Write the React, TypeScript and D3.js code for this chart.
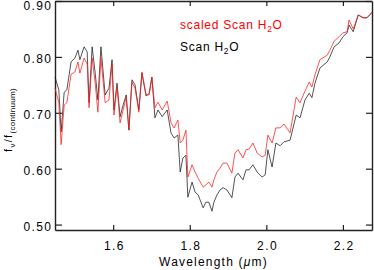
import * as d3 from "d3";
import React, { useEffect, useRef } from "react";

const width = 374;
const height = 270;
const margin = { top: 1, right: 2, bottom: 40, left: 55 };
const font = "'Liberation Sans', Arial, Helvetica, sans-serif";

// wavelength in micron
const wavelength = [
  1.448, 1.458, 1.464, 1.472, 1.479, 1.490, 1.500, 1.508, 1.513, 1.524,
  1.532, 1.537, 1.545, 1.553, 1.560, 1.568, 1.579, 1.589, 1.597, 1.602,
  1.610, 1.618, 1.626, 1.634, 1.641, 1.649, 1.657, 1.667, 1.675, 1.686,
  1.694, 1.701, 1.709, 1.717, 1.728, 1.741, 1.751, 1.759, 1.769, 1.775,
  1.782, 1.790, 1.795, 1.806, 1.814, 1.822, 1.835, 1.842, 1.850, 1.858,
  1.863, 1.871, 1.879, 1.887, 1.897, 1.910, 1.918, 1.926, 1.939, 1.947,
  1.955, 1.965, 1.976, 1.989, 1.997, 2.004, 2.015, 2.025, 2.036, 2.046,
  2.062, 2.078, 2.088, 2.101, 2.112, 2.119, 2.127, 2.140, 2.159, 2.166,
  2.177, 2.190, 2.200, 2.211, 2.216, 2.227, 2.240, 2.253, 2.263, 2.276,
];

const scanH2O = [
  0.764, 0.741, 0.666, 0.737, 0.741, 0.791, 0.798, 0.812, 0.795, 0.818,
  0.809, 0.718, 0.818, 0.771, 0.723, 0.818, 0.732, 0.744, 0.795, 0.705,
  0.753, 0.693, 0.714, 0.732, 0.669, 0.759, 0.750, 0.705, 0.771, 0.730,
  0.735, 0.764, 0.691, 0.705, 0.693, 0.705, 0.664, 0.655, 0.660, 0.594,
  0.619, 0.624, 0.549, 0.576, 0.558, 0.553, 0.530, 0.540, 0.540, 0.524,
  0.540, 0.553, 0.562, 0.566, 0.562, 0.548, 0.585, 0.592, 0.580, 0.598,
  0.598, 0.607, 0.594, 0.585, 0.589, 0.634, 0.603, 0.646, 0.641, 0.648,
  0.651, 0.696, 0.691, 0.723, 0.735, 0.727, 0.753, 0.780, 0.791, 0.800,
  0.818, 0.825, 0.836, 0.843, 0.857, 0.845, 0.875, 0.870, 0.870, 0.880,
];

const scaledScanH2O = [
  0.744, 0.718, 0.643, 0.714, 0.718, 0.769, 0.773, 0.791, 0.771, 0.798,
  0.787, 0.709, 0.798, 0.753, 0.701, 0.798, 0.718, 0.723, 0.787, 0.696,
  0.746, 0.682, 0.705, 0.728, 0.669, 0.755, 0.744, 0.701, 0.773, 0.732,
  0.732, 0.764, 0.709, 0.719, 0.705, 0.721, 0.682, 0.673, 0.687, 0.646,
  0.651, 0.669, 0.585, 0.607, 0.594, 0.583, 0.567, 0.571, 0.576, 0.567,
  0.580, 0.594, 0.601, 0.610, 0.610, 0.592, 0.628, 0.634, 0.619, 0.634,
  0.635, 0.646, 0.628, 0.621, 0.624, 0.660, 0.646, 0.673, 0.673, 0.680,
  0.664, 0.728, 0.718, 0.739, 0.755, 0.746, 0.768, 0.795, 0.803, 0.812,
  0.828, 0.836, 0.843, 0.845, 0.866, 0.850, 0.875, 0.870, 0.870, 0.879,
];

const xTicks = [1.6, 1.8, 2.0, 2.2];
const yTicks = [0.5, 0.6, 0.7, 0.8, 0.9];

export default function App() {
  const ref = useRef<SVGSVGElement>(null);

  useEffect(() => {
    const svg = d3.select(ref.current);
    svg.selectAll("*").remove();

    const x = d3.scaleLinear()
      .domain([1.448, 2.276])
      .range([margin.left, width - margin.right]);
    const y = d3.scaleLinear()
      .domain([0.4903, 0.9])
      .range([height - margin.bottom, margin.top]);

    const styleAxis = (g) => {
      g.attr("font-family", font).attr("font-size", 12);
      g.select(".domain").attr("stroke", "#222").attr("stroke-width", 1.4);
      g.selectAll(".tick line").attr("stroke", "#222").attr("stroke-width", 1.2);
      g.selectAll(".tick text").attr("fill", "#000").attr("letter-spacing", 1.4);
    };

    // left axis with labels
    const gl = svg.append("g")
      .attr("transform", "translate(" + margin.left + ",0)")
      .call(d3.axisLeft(y).tickValues(yTicks).tickFormat(d3.format(".2f"))
        .tickSizeInner(-7).tickSizeOuter(0).tickPadding(2.6));
    styleAxis(gl);
    gl.selectAll(".tick text")
      .attr("dy", null)
      .attr("dominant-baseline", "central")
      .attr("y", (d) => Math.max(1.5, 5.5 - y(d)));

    // right axis
    const gr = svg.append("g")
      .attr("transform", "translate(" + (width - margin.right) + ",0)")
      .call(d3.axisRight(y).tickValues(yTicks).tickFormat(() => "")
        .tickSizeInner(-6).tickSizeOuter(0));
    styleAxis(gr);

    // bottom axis with labels
    const gb = svg.append("g")
      .attr("transform", "translate(0," + (height - margin.bottom) + ")")
      .call(d3.axisBottom(x).tickValues(xTicks).tickFormat(d3.format(".1f"))
        .tickSizeInner(-5).tickSizeOuter(0).tickPadding(11));
    styleAxis(gb);
    gb.selectAll(".tick text").attr("dx", 0.7);

    // top axis
    const gt = svg.append("g")
      .attr("transform", "translate(0," + margin.top + ")")
      .call(d3.axisTop(x).tickValues(xTicks).tickFormat(() => "")
        .tickSizeInner(-5).tickSizeOuter(0));
    styleAxis(gt);

    const idx = d3.range(wavelength.length);
    const line = (vals) => d3.line()
      .x((i) => x(wavelength[i]))
      .y((i) => y(vals[i]))(idx);

    svg.append("path")
      .attr("d", line(scanH2O))
      .attr("fill", "none")
      .attr("stroke", "#1a1a1a")
      .attr("stroke-width", 0.75);

    svg.append("path")
      .attr("d", line(scaledScanH2O))
      .attr("fill", "none")
      .attr("stroke", "#ff1a1a")
      .attr("stroke-width", 0.75);

    // legend
    const legend = [
      { label: "scaled Scan H", color: "#ff0000", y: 29.3 },
      { label: "Scan H", color: "#000", y: 51 },
    ];
    legend.forEach((l) => {
      const t = svg.append("text")
        .attr("x", 180)
        .attr("y", l.y)
        .attr("fill", l.color)
        .attr("font-family", font)
        .attr("font-size", 12)
        .attr("letter-spacing", 0.75);
      t.append("tspan").text(l.label);
      t.append("tspan").attr("font-size", 8.5).attr("dy", 2.5).text("2");
      t.append("tspan").attr("dy", -2.5).text("O");
    });

    // x label
    const xl = svg.append("text")
      .attr("x", (margin.left + width - margin.right) / 2)
      .attr("y", 265.5)
      .attr("text-anchor", "middle")
      .attr("font-family", font)
      .attr("font-size", 12)
      .attr("letter-spacing", 1.2);
    xl.append("tspan").text("Wavelength (");
    xl.append("tspan").attr("font-style", "italic").text("\u03bc");
    xl.append("tspan").text("m)");

    // y label
    const yl = svg.append("text")
      .attr("transform", "translate(12,120) rotate(-90)")
      .attr("text-anchor", "middle")
      .attr("font-family", font)
      .attr("font-size", 11)
      .attr("letter-spacing", 1.3);
    yl.append("tspan").text("f");
    yl.append("tspan").attr("font-size", 8).attr("dy", 2.5).text("\u03bd");
    yl.append("tspan").attr("dy", -2.5).text("/f");
    yl.append("tspan").attr("font-size", 8).attr("dy", 2.5).attr("letter-spacing", 0.3).text("(continuum)");
  }, []);

  return (
    <svg
      ref={ref}
      width={width}
      height={height}
      style={{ position: "absolute", left: 0, top: 0, background: "#fff" }}
    />
  );
}
